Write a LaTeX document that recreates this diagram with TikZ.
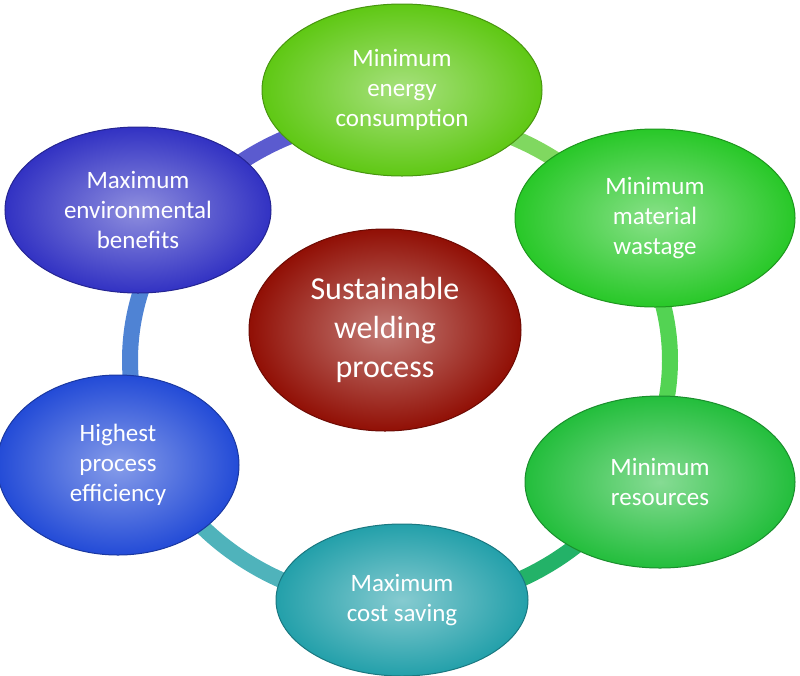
\documentclass[tikz,border=0pt]{standalone}
\usepackage{fontspec}
\setmainfont{Carlito}
\usetikzlibrary{shapes.geometric}
\definecolor{cgreenA}{RGB}{95,200,20}
\definecolor{cgreenB}{RGB}{40,200,40}
\definecolor{cgreenC}{RGB}{35,190,60}
\definecolor{cteal}{RGB}{35,160,170}
\definecolor{cblueA}{RGB}{35,75,215}
\definecolor{cblueB}{RGB}{50,50,195}
\definecolor{cred}{RGB}{145,15,5}
\tikzset{
  bub/.style={ellipse, draw=#1!75!black, line width=1pt, shading=radial, inner color=#1!55!white, outer color=#1,
    text=white, align=center, inner sep=0pt,
    font=\fontsize{25}{30}\selectfont},
  ring/.style={line width=16pt}
}
\begin{document}
\begin{tikzpicture}[x=1pt,y=-1pt]
\fill[white] (0,0) rectangle (800,675);
\useasboundingbox (0,0) rectangle (800,675);
\draw[ring,cgreenA!60!cgreenB!70!white] (400,360) ++(-90:270 and 245) arc[start angle=-90,end angle=-25,x radius=270,y radius=245];
\draw[ring,cgreenB!80!white] (400,360) ++(-25:270 and 245) arc[start angle=-25,end angle=35,x radius=270,y radius=245];
\draw[ring,cgreenC!60!cteal] (400,360) ++(35:270 and 245) arc[start angle=35,end angle=90,x radius=270,y radius=245];
\draw[ring,cteal!80!white] (400,360) ++(90:270 and 245) arc[start angle=90,end angle=150,x radius=270,y radius=245];
\draw[ring,cblueA!70!cteal!80!white] (400,360) ++(150:270 and 245) arc[start angle=150,end angle=215,x radius=270,y radius=245];
\draw[ring,cblueB!80!white] (400,360) ++(215:270 and 245) arc[start angle=215,end angle=270,x radius=270,y radius=245];
\node[bub=cgreenA, minimum width=280, minimum height=172] (e) at (402,90) {Minimum\\energy\\consumption};
\node[bub=cgreenB, minimum width=280, minimum height=178] (m) at (655,218) {Minimum\\material\\wastage};
\node[bub=cgreenC, minimum width=270, minimum height=172] (r) at (660,482) {Minimum\\resources};
\node[bub=cteal, minimum width=252, minimum height=152] (c) at (402,600) {Maximum\\cost saving};
\node[bub=cblueA, minimum width=242, minimum height=180] (h) at (118,465) {Highest\\process\\efficiency};
\node[bub=cblueB, minimum width=266, minimum height=166] (b) at (138,210) {Maximum\\environmental\\benefits};
\node[bub=cred, minimum width=272, minimum height=202, font=\fontsize{32}{39}\selectfont] (s) at (385,330) {Sustainable\\welding\\process};
\end{tikzpicture}
\end{document}
